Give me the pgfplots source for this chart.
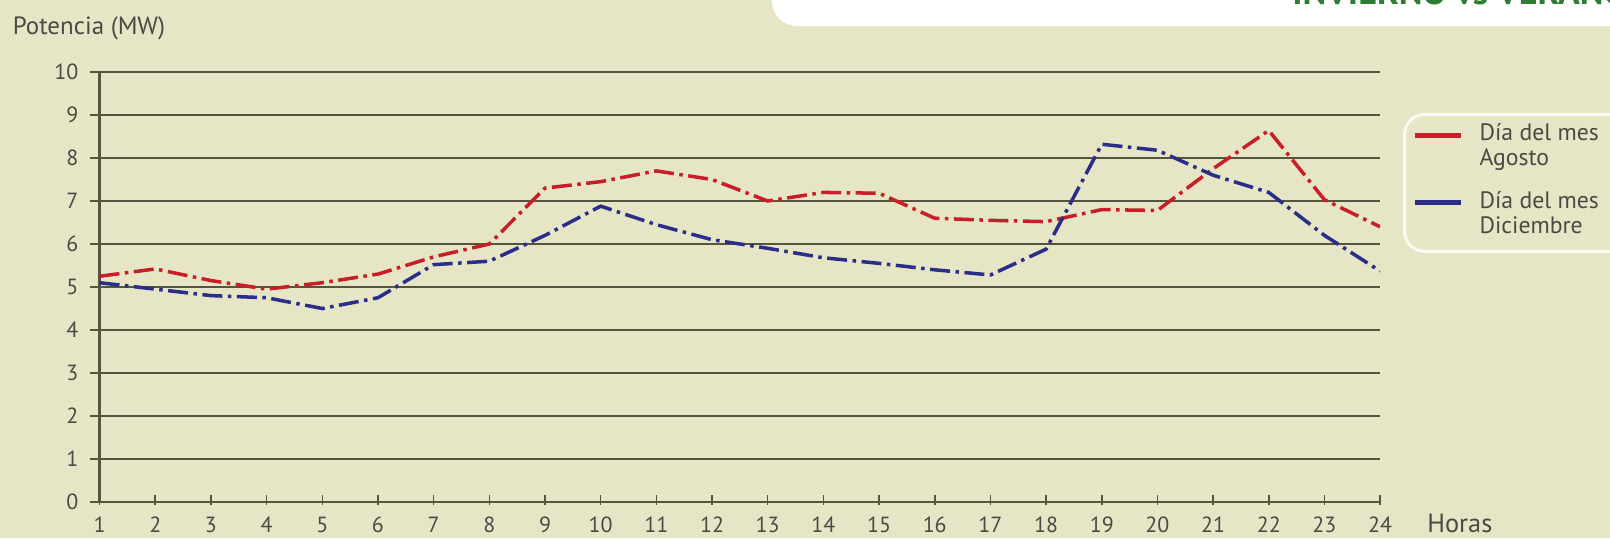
\documentclass[border=0pt]{standalone}
\usepackage{pgfplots}
\pgfplotsset{compat=1.18}
\usepackage{fontspec}
\setmainfont{PT Sans}
\definecolor{bg}{HTML}{E6E6C6}
\definecolor{gridc}{HTML}{55553F}
\definecolor{txt}{HTML}{4A4A44}
\definecolor{redl}{HTML}{C81E28}
\definecolor{bluel}{HTML}{2A2E88}
\definecolor{titlegreen}{HTML}{2E7D32}

\pgfplotstableread{
h v
1 5.25
2 5.42
3 5.15
4 4.95
5 5.10
6 5.30
7 5.70
8 6.00
9 7.30
10 7.45
11 7.70
12 7.50
13 7.00
14 7.20
15 7.18
16 6.60
17 6.55
18 6.52
19 6.80
20 6.78
21 7.75
22 8.64
23 7.03
24 6.40
}\agosto

\pgfplotstableread{
h v
1 5.10
2 4.95
3 4.80
4 4.75
5 4.50
6 4.75
7 5.52
8 5.60
9 6.20
10 6.88
11 6.45
12 6.10
13 5.90
14 5.68
15 5.55
16 5.40
17 5.28
18 5.88
19 8.32
20 8.18
21 7.60
22 7.20
23 6.20
24 5.37
}\diciembre

\begin{document}
\begin{tikzpicture}[x=1mm,y=1mm]
\useasboundingbox (0,0) rectangle (322,107.6);
\fill[bg] (0,0) rectangle (322,107.6);
\clip (0,0) rectangle (322,107.6);
\fill[white, rounded corners=5mm] (154.4,102.4) rectangle (340,125);
\node[anchor=base west, font=\bfseries\fontsize{20.5}{20}\selectfont, text=titlegreen, inner sep=0] at (258.4,106.6) {INVIERNO vs VERANO};
\node[anchor=base west, font=\fontsize{14.2}{15}\selectfont, text=txt, inner sep=0] at (2.5,100.8) {Potencia (MW)};
\node[anchor=base west, font=\fontsize{15}{16}\selectfont, text=txt, inner sep=0] at (285.4,1.2) {Horas};

\begin{axis}[
  at={(19.92mm,7.2mm)}, anchor=south west,
  scale only axis, width=256.1mm, height=86mm,
  xmin=1, xmax=24, ymin=0, ymax=10,
  xtick={1,...,24}, ytick={0,...,10},
  axis lines*=left,
  axis line style={gridc, line width=1.5pt},
  ymajorgrids, grid style={gridc, line width=1.5pt},
  tick align=outside, major tick length=2mm,
  tick style={gridc, line width=0.9pt},
  xtick style={yshift=1.5mm},
  /pgf/number format/assume math mode=true,
  ticklabel style={font=\fontsize{12.5}{14}\selectfont, text=txt},
  xticklabel style={yshift=0.3mm},
  yticklabel style={xshift=-1mm},
  legend style={at={(1.018,0.9047)}, anchor=north west,
    draw=white!85!bg, line width=1.6pt, rounded corners=4mm, fill=bg,
    font=\fontsize{13.5}{14.2}\selectfont, text=txt,
    cells={anchor=base west},
    inner xsep=1.4mm, inner ysep=1.1mm, row sep=1.8mm},
  legend image code/.code={
    \path[draw=none] (0mm,-7.5mm) rectangle (12.9mm,3.4mm);
    \draw[#1, solid, line width=2.8pt] (0.6mm,1.1mm) -- (9.8mm,1.1mm);
  },
]
\addplot[redl, line width=2pt, dash pattern=on 4mm off 1.1mm on 0.7mm off 1.1mm] table[x=h,y=v] {\agosto};
\addlegendentry{\begin{tabular}[t]{@{}l@{\hspace{8mm}}}Día del mes\\Agosto\end{tabular}}
\addplot[bluel, line width=2pt, dash pattern=on 4mm off 1.1mm on 0.7mm off 1.1mm] table[x=h,y=v] {\diciembre};
\addlegendentry{\begin{tabular}[t]{@{}l@{\hspace{8mm}}}Día del mes\\Diciembre\end{tabular}}
\end{axis}
\end{tikzpicture}
\end{document}
